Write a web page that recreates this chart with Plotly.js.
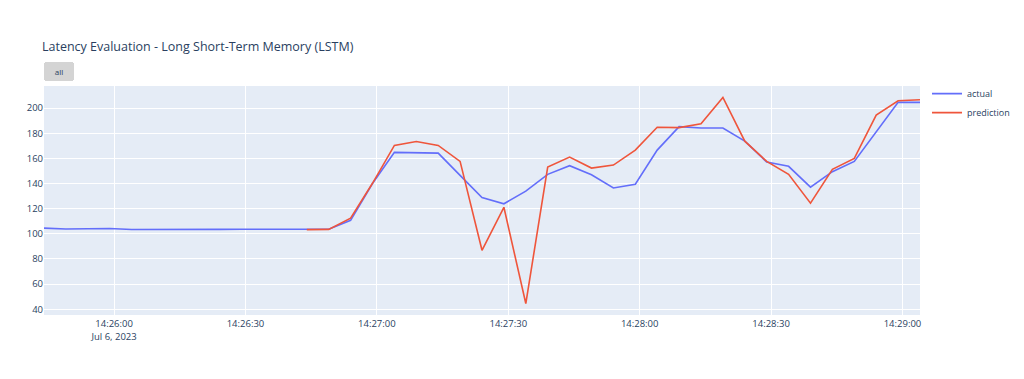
<!DOCTYPE html>
<html>
<head>
<meta charset="utf-8">
<script src="https://cdn.plot.ly/plotly-3.0.1.min.js"></script>
<style>html,body{margin:0;padding:0;background:#fff;}#chart{width:1024px;height:379px;}</style>
</head>
<body>
<div id="chart"></div>
<script>
const times = [
  "2023-07-06 14:25:44","2023-07-06 14:25:49","2023-07-06 14:25:54","2023-07-06 14:25:59",
  "2023-07-06 14:26:04","2023-07-06 14:26:09","2023-07-06 14:26:14","2023-07-06 14:26:19",
  "2023-07-06 14:26:24","2023-07-06 14:26:29","2023-07-06 14:26:34","2023-07-06 14:26:39",
  "2023-07-06 14:26:44","2023-07-06 14:26:49","2023-07-06 14:26:54","2023-07-06 14:26:59",
  "2023-07-06 14:27:04","2023-07-06 14:27:09","2023-07-06 14:27:14","2023-07-06 14:27:19",
  "2023-07-06 14:27:24","2023-07-06 14:27:29","2023-07-06 14:27:34","2023-07-06 14:27:39",
  "2023-07-06 14:27:44","2023-07-06 14:27:49","2023-07-06 14:27:54","2023-07-06 14:27:59",
  "2023-07-06 14:28:04","2023-07-06 14:28:09","2023-07-06 14:28:14","2023-07-06 14:28:19",
  "2023-07-06 14:28:24","2023-07-06 14:28:29","2023-07-06 14:28:34","2023-07-06 14:28:39",
  "2023-07-06 14:28:44","2023-07-06 14:28:49","2023-07-06 14:28:54","2023-07-06 14:28:59",
  "2023-07-06 14:29:04"
];
const actual = [
  104.5,103.8,104.0,104.2,103.4,103.3,103.2,103.4,103.5,103.6,103.6,103.4,
  103.0,103.6,110.7,140.0,164.8,164.2,164.2,146.5,128.9,123.9,133.9,147.3,
  154.2,147.0,136.5,139.4,166.6,185.3,184.2,184.2,173.7,157.1,153.7,137.1,
  149.4,157.6,181.1,204.6,204.6
];
const prediction = [
  null,null,null,null,null,null,null,null,null,null,null,null,
  103.3,103.5,112.5,140.2,170.3,173.4,170.3,157.6,86.9,121.1,44.5,153.1,
  161.0,152.3,154.7,166.6,184.8,184.5,187.6,208.5,173.7,157.6,147.3,124.4,
  151.3,160.0,194.5,205.9,206.7
];
const titleText = "Latency Evaluation - Long Short-Term Memory (LSTM)";

const data = [
  {x: times, y: actual, type: "scatter", mode: "lines", name: "actual",
   line: {color: "#636efa", width: 1.6}},
  {x: times, y: prediction, type: "scatter", mode: "lines", name: "prediction",
   line: {color: "#EF553B", width: 1.6}}
];

const layout = {
  width: 1024, height: 379,
  margin: {l: 44, r: 104, t: 86, b: 64, autoexpand: false},
  paper_bgcolor: "#fff",
  plot_bgcolor: "#E5ECF6",
  font: {family: "Open Sans, verdana, arial, sans-serif", size: 9.5, color: "#2a3f5f"},
  title: {text: titleText, font: {size: 12.5, color: "#2a3f5f"},
          x: 0.041, xanchor: "left", xref: "container", y: 0.876, yanchor: "middle", yref: "container"},
  xaxis: {
    type: "date", dtick: 30000, gridcolor: "#fff", linecolor: "#fff", zeroline: false,
    ticks: "", automargin: false,
    rangeselector: {buttons: [{step: "all", label: "all"}], font: {size: 8}, x: 0, y: 1.02}
  },
  yaxis: {dtick: 20, gridcolor: "#fff", zeroline: false, ticks: "", automargin: false},
  legend: {x: 1.008, y: 1.03, font: {size: 9}, tracegroupgap: 0},
  showlegend: true
};

Plotly.newPlot("chart", data, layout, {displayModeBar: false});
</script>
</body>
</html>
